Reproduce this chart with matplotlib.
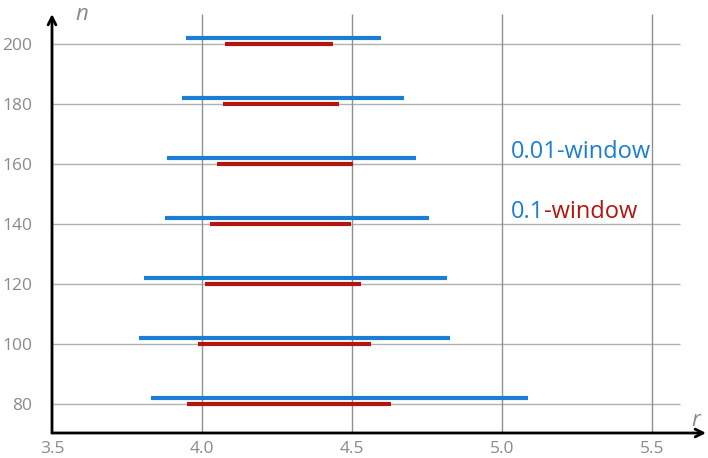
import matplotlib.pyplot as plt

# n values and r-intervals
n_values = [200, 180, 160, 140, 120, 100, 80]
wide_lo = [3.947, 3.934, 3.883, 3.877, 3.808, 3.791, 3.830]
wide_hi = [4.598, 4.673, 4.713, 4.758, 4.818, 4.828, 5.087]
narrow_lo = [4.077, 4.069, 4.050, 4.027, 4.010, 3.988, 3.950]
narrow_hi = [4.437, 4.458, 4.502, 4.496, 4.530, 4.563, 4.630]

x_ticks = [3.5, 4.0, 4.5, 5.0, 5.5]
y_ticks = [80, 100, 120, 140, 160, 180, 200]

blue = '#1a7fd4'
red = '#b3150f'
gray = '#8a8a8a'


def main():
    plt.rcParams['font.family'] = ['Open Sans', 'DejaVu Sans']
    fig = plt.figure(figsize=(7.08, 4.58), dpi=100)
    ax = fig.add_axes([52 / 708, 25 / 458, 654 / 708, 419 / 458])
    ax.set_xlim(3.5, 5.68)
    ax.set_ylim(70.3, 210)

    for s in ax.spines.values():
        s.set_visible(False)

    # grid
    ax.hlines(y_ticks, 3.5, 5.593, color='#b0b0b0', lw=1, zorder=1)
    ax.vlines(x_ticks[1:], 70.3, 210, color='#909090', lw=1, zorder=1)

    # intervals
    blue_y = [n + 2 for n in n_values]
    ax.hlines(blue_y, wide_lo, wide_hi, color=blue, lw=3, zorder=3)
    ax.hlines(n_values, narrow_lo, narrow_hi, color=red, lw=3, zorder=3)

    # axes with arrows
    ax.annotate('', xy=(1.0, 0), xytext=(0, 0), xycoords='axes fraction',
                arrowprops=dict(arrowstyle='->', color='black', lw=2,
                                mutation_scale=14, shrinkA=0, shrinkB=0))
    ax.annotate('', xy=(0, 1.0), xytext=(0, 0), xycoords='axes fraction',
                arrowprops=dict(arrowstyle='->', color='black', lw=2,
                                mutation_scale=14, shrinkA=0, shrinkB=0))

    ax.set_xticks(x_ticks)
    ax.set_xticklabels([f'{v:.1f}' for v in x_ticks])
    ax.set_yticks(y_ticks)
    ax.set_yticklabels([str(v) for v in y_ticks])
    ax.tick_params(length=0, labelsize=12.5, colors=gray)
    ax.tick_params(axis='y', pad=14)
    ax.tick_params(axis='x', pad=6)

    ax.text(3.6, 210, 'n', style='italic', fontsize=16, color=gray,
            ha='center', va='center')
    ax.text(5.645, 74.5, 'r', style='italic', fontsize=16, color=gray,
            ha='center', va='center')

    ax.text(5.03, 164, '0.01-window', fontsize=17, color=blue,
            ha='left', va='center')
    t = ax.text(5.03, 144, '0.1', fontsize=17, color=blue,
                ha='left', va='center')
    ax.annotate('-window', xycoords=t, xy=(1, 0.5), va='center',
                fontsize=17, color=red)

    plt.savefig('out.png', dpi=100)


if __name__ == '__main__':
    main()
